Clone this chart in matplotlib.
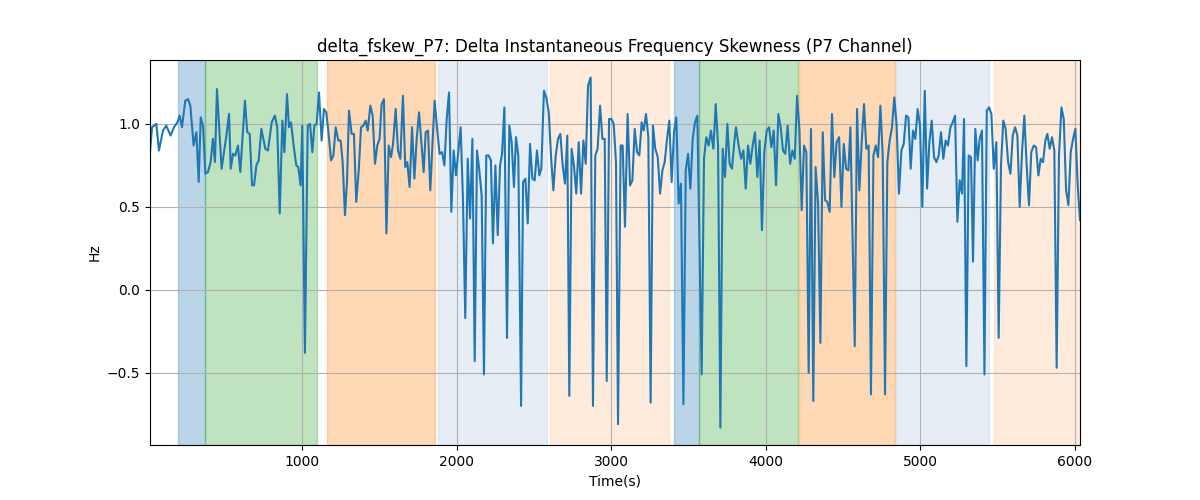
# delta_fskew_P7 plot with shaded phases
import matplotlib
matplotlib.use("Agg")
import matplotlib.pyplot as plt

# time (s) and value (Hz)
time_s = [17, 30, 58, 75, 101, 122, 150, 172, 194, 209, 224, 245, 263, 278, 299, 317, 332, 345, 360, 375,
          392, 409, 424, 437, 450, 480, 511, 528, 539, 554, 569, 586, 601, 631, 646, 662, 677, 690, 705, 720,
          737, 763, 780,
          804, 825, 840, 856, 873, 886, 903, 916, 929, 946, 963, 976, 991, 1002, 1019, 1037, 1052, 1067, 1080,
          1095, 1110, 1127, 1142, 1157, 1170, 1188, 1203, 1218, 1235, 1250, 1263, 1278, 1291, 1304, 1321, 1336,
          1351, 1367, 1382, 1397, 1412, 1425, 1442, 1457, 1472, 1487, 1502, 1515, 1530,
          1546, 1561, 1576, 1589, 1606, 1621, 1636, 1653, 1668, 1681, 1696, 1712, 1727, 1742, 1757, 1772, 1787,
          1800, 1815, 1830, 1845, 1858, 1875, 1890, 1906, 1921, 1936, 1951, 1966, 1981, 1996, 2011, 2026, 2041,
          2056, 2072, 2087, 2102, 2117, 2132, 2147, 2162, 2177, 2192, 2207, 2222, 2235, 2251, 2266, 2281, 2294,
          2309, 2326, 2341, 2356, 2371, 2384, 2399, 2417, 2430, 2445, 2460, 2475, 2490, 2505, 2520, 2535, 2548,
          2565, 2580, 2596, 2611, 2626, 2641, 2656, 2671, 2686, 2701, 2716, 2729, 2744, 2759, 2774, 2790, 2805,
          2820, 2835, 2850, 2867, 2882, 2897, 2912, 2928, 2943, 2958, 2971, 2986, 3001, 3016, 3031, 3044,
          3061, 3074, 3089, 3106, 3122, 3137, 3152, 3167, 3182, 3197, 3210, 3225, 3240, 3255, 3270, 3285, 3301,
          3316, 3331, 3346, 3361, 3376, 3391, 3406, 3421, 3436, 3451, 3467, 3482, 3497, 3512, 3527, 3542, 3557,
          3585, 3600, 3615, 3630, 3645, 3661, 3676, 3691, 3706, 3721, 3736, 3751, 3766, 3781, 3796, 3807,
          3824, 3840, 3855, 3870, 3885, 3900, 3915, 3930, 3945, 3960, 3975, 3990, 4006, 4021, 4036, 4051, 4066,
          4081, 4096, 4111, 4126, 4141, 4157, 4172, 4187, 4202, 4217, 4232, 4247, 4262, 4277, 4292, 4307, 4322,
          4338, 4353, 4368, 4383, 4398, 4413, 4428, 4443, 4458, 4474, 4489, 4504, 4519, 4534, 4547,
          4575, 4590, 4605, 4620, 4635, 4650, 4665, 4680, 4696, 4711, 4726, 4741, 4756, 4771, 4786, 4801, 4816,
          4831, 4846, 4861, 4877, 4892, 4907, 4922, 4937, 4952, 4967, 4982, 4997, 5012, 5028, 5043, 5058, 5073,
          5088, 5103, 5118, 5133, 5148, 5163, 5178, 5194, 5209, 5224, 5239, 5254, 5269, 5282, 5297, 5312,
          5327, 5340, 5355, 5370, 5383, 5398, 5414, 5429, 5444, 5459, 5474, 5491, 5506, 5521, 5536, 5551, 5567,
          5582, 5597, 5612, 5627, 5642, 5657, 5672, 5687, 5702, 5717, 5733, 5748, 5763, 5778, 5793, 5808, 5821,
          5836, 5851, 5866, 5881, 5896, 5912, 5927, 5942, 5957, 5972, 5987, 6002, 6017, 6032]

fskew = [0.83, 0.98, 1.00, 0.84, 0.96, 0.99, 0.93, 0.98, 1.01, 1.05, 0.98, 1.14, 1.15, 1.11, 0.87, 0.95, 0.65,
         1.04, 0.99, 0.70, 0.71, 0.77, 0.91, 0.77, 1.21, 0.73, 0.93, 1.06, 0.73, 0.82, 0.81, 0.87, 0.71, 1.14,
         0.95, 0.94, 0.63, 0.63, 0.75, 0.78, 0.97, 0.85, 0.84,
         1.01, 1.05, 0.98, 0.46, 1.02, 0.83, 1.18, 0.98, 1.01, 0.87, 0.75, 0.74, 0.63, 0.99, -0.38, 0.99, 1.00,
         0.83, 0.99, 1.00, 1.19, 0.90, 1.09, 1.07, 0.96, 0.78, 0.81, 0.98, 0.90, 0.90, 0.77, 0.45, 0.65, 1.08,
         0.94, 0.94, 0.53, 0.72, 0.98, 0.99, 1.02, 0.96, 1.11, 1.05, 0.76, 0.87, 0.91, 1.12, 1.15,
         0.34, 0.87, 0.80, 0.88, 1.09, 0.84, 0.79, 1.17, 0.74, 0.77, 0.62, 0.98, 0.67, 0.91, 1.07, 0.89, 0.71,
         0.95, 0.96, 0.60, 0.90, 1.14, 0.96, 0.82, 0.83, 0.75, 1.03, 1.19, 0.47, 0.84, 0.69, 0.83, 0.98, 0.55,
         -0.17, 0.79, 0.43, 0.91, -0.43, 0.84, 0.72, 0.57, -0.51, 0.81, 0.81, 0.78, 0.28, 0.75, 0.33, 0.75, 0.82,
         1.10, -0.29, 0.99, 0.89, 0.62, 0.92, 0.81, -0.70, 0.65, 0.67, 0.40, 0.88, 0.67, 0.66, 0.84, 0.69, 0.73,
         1.20, 1.16, 1.07, 0.80, 0.60, 0.81, 0.91, 0.94, 0.75, 0.64, 0.93, -0.64, 0.85, 0.75, 0.58, 0.89, 0.58,
         0.90, 0.76, 1.23, 1.28, -0.70, 0.81, 0.85, 1.11, 0.91, 0.91, -0.55, 1.03, 1.03, 1.00, 0.77, -0.81,
         0.87, 0.87, 0.38, 1.06, 0.63, 0.66, 0.97, 0.83, 0.81, 1.01, 0.96, 1.06, 0.92, -0.68, 0.99, 0.85, 0.80,
         0.58, 0.72, 0.77, 0.91, 1.02, 0.65, 0.95, 1.04, 0.52, 0.64, -0.69, 0.72, 0.82, 0.61, 0.91, 1.01, 1.05,
         -0.51, 0.79, 0.92, 0.87, 0.96, 0.85, 1.12, 0.87, -0.83, 0.85, 0.68, 1.00, 0.76, 0.73, 0.89, 0.98,
         0.87, 0.79, 0.84, 0.61, 0.87, 0.76, 0.87, 0.95, 0.68, 0.90, 0.36, 0.83, 0.96, 0.98, 0.86, 0.96, 0.63,
         1.06, 0.98, 0.84, 0.82, 0.99, 0.76, 0.84, 0.79, 1.17, 0.97, 0.48, 0.87, 0.83, -0.50, 0.97, -0.67, 0.74,
         0.52, -0.32, 0.95, 0.54, 0.53, 0.47, 1.06, 0.68, 0.89, 0.92, 0.50, 0.88, 0.73, 0.72, 0.98,
         -0.34, 1.09, 0.60, 0.89, 1.12, 0.85, 0.87, -0.63, 0.81, 0.87, 0.80, 1.11, 0.81, -0.63, 0.77, 0.90, 0.98,
         1.16, 0.99, 0.58, 0.84, 0.88, 1.05, 1.04, 0.73, 0.96, 0.91, 1.09, 0.99, 0.50, 1.20, 0.61, 0.89, 1.02,
         0.80, 0.77, 0.81, 0.95, 0.79, 0.90, 0.87, 0.98, 1.01, 1.05, 0.41, 0.66, 0.58, 1.03, -0.46, 0.81,
         0.80, 0.17, 0.97, 0.78, 0.91, 0.96, -0.51, 1.08, 1.10, 1.06, 0.73, 0.89, -0.29, 0.75, 1.02, 0.97, 0.77,
         0.70, 0.93, 0.98, 0.93, 0.50, 0.83, 1.05, 0.75, 0.51, 0.83, 0.87, 0.86, 0.69, 0.79, 0.77, 0.90, 0.94,
         0.85, 0.92, 0.84, -0.47, 0.81, 1.10, 1.03, 0.60, 0.51, 0.83, 0.91, 0.97, 0.63, 0.42]

# shaded phases: start, end, kind
span_start = [198, 375, 1162, 1880, 2604, 3408, 3566, 4215, 4840, 5474]
span_end = [375, 1095, 1858, 2587, 3376, 3566, 4208, 4836, 5442, 6032]
span_kind = ["a", "b", "c", "d", "e", "a", "b", "c", "d", "e"]

# colour and alpha per phase kind
kind_style = {
    "a": ("tab:blue", 0.3),
    "b": ("tab:green", 0.3),
    "c": ("tab:orange", 0.3),
    "d": ("lightsteelblue", 0.3),
    "e": ("tab:orange", 0.15),
}

fig, ax = plt.subplots(figsize=(12, 5), dpi=100)

for s, e, k in zip(span_start, span_end, span_kind):
    color, alpha = kind_style[k]
    ax.axvspan(s, e, color=color, alpha=alpha)

ax.plot(time_s, fskew, color="tab:blue")

ax.set_xlim(time_s[0], time_s[-1])
ax.set_title("delta_fskew_P7: Delta Instantaneous Frequency Skewness (P7 Channel)")
ax.set_xlabel("Time(s)")
ax.set_ylabel("Hz")
ax.grid(True)

plt.savefig("out.png")
